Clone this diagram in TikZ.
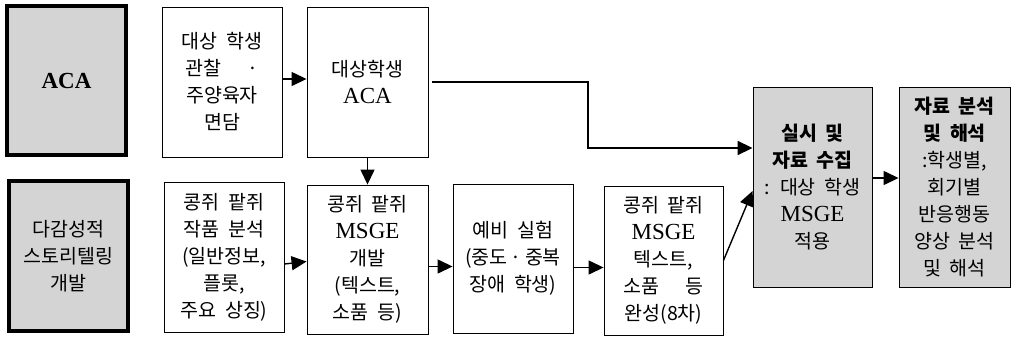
\documentclass[tikz,border=0pt]{standalone}
\usepackage{fontspec}
\setmainfont{Liberation Serif}
\newfontfamily\kr[WordSpace=2]{Noto Sans CJK KR}
\usetikzlibrary{arrows.meta,calc}
\definecolor{boxgray}{RGB}{212,212,212}
\newcommand{\lat}[1]{{\rmfamily\fontsize{23}{27}\selectfont #1}}
\begin{document}
\begin{tikzpicture}[x=1pt,y=-1pt,
  box/.style={draw, line width=0.9pt, inner sep=0pt, align=center,
    font=\kr\fontsize{19.5}{27}\selectfont},
  thickbox/.style={box, fill=boxgray, line width=4pt},
  graybox/.style={box, fill=boxgray},
  arr/.style={line width=1.4pt, -{Triangle[length=15pt,width=14pt]}}]
\useasboundingbox (0,0) rectangle (1013,338);
% boxes
\node[thickbox, minimum width=119pt, minimum height=149pt] (aca) at (66.5,80.5) {\lat{\bfseries ACA}};
\node[thickbox, minimum width=119pt, minimum height=150pt] (dev) at (68.5,256) {다감성적\\스토리텔링\\개발};
\node[box, minimum width=120pt, minimum height=150pt] (obs) at (222,82) {대상 학생\\관찰\ \ \ ·\\주양육자\\면담};
\node[box, minimum width=121pt, minimum height=150pt] (tgt) at (367.5,82) {대상학생\\\lat{ACA}};
\node[box, minimum width=120pt, minimum height=150pt] (ana) at (224,257) {콩쥐 팥쥐\\작품 분석\\(일반정보,\\플롯,\\주요 상징)};
\node[box, minimum width=121pt, minimum height=149pt] (msge) at (367.5,259.5) {콩쥐 팥쥐\\\lat{MSGE}\\개발\\(텍스트,\\소품 등)};
\node[box, minimum width=120pt, minimum height=149pt] (pre) at (513,258.5) {예비 실험\\(중도\,·\,중복\\장애 학생)};
\node[box, minimum width=119pt, minimum height=149pt] (fin) at (663.5,260.5) {콩쥐 팥쥐\\\lat{MSGE}\\텍스트,\\소품\ \ \ 등\\완성(8차)};
\node[graybox, minimum width=119pt, minimum height=200pt] (run) at (812.5,187) {{\bfseries 실시 및}\\{\bfseries 자료 수집}\\: 대상 학생\\\lat{MSGE}\\적용};
\node[graybox, minimum width=111pt, minimum height=200pt] (res) at (954.5,187) {{\bfseries 자료 분석}\\{\bfseries 및 해석}\\:학생별,\\회기별\\반응행동\\양상 분석\\및 해석};
% connectors
\coordinate (bend) at (588,148);
\draw[arr] ($(obs.east)+(0,-3)$) -- ($(tgt.west)+(0,-3)$);
\draw[arr] (tgt.south) -- (msge.north);
\draw[arr] ($(ana.east)+(0,7)$) -- ($(msge.west)+(0,2)$);
\draw[arr] ($(msge.east)+(0,7)$) -- ($(pre.west)+(0,8)$);
\draw[arr] ($(pre.east)+(0,9)$) -- ($(fin.west)+(0,7)$);
\draw[arr] (fin.east) -- ($(run.west)+(0,4)$);
\draw[arr, line width=1.8pt] ($(tgt.east)+(4,0)$) -| (bend) -- (bend -| run.west);
\draw[arr] ($(run.east)+(0,-9)$) -- ($(res.west)+(0,-9)$);
\end{tikzpicture}
\end{document}
